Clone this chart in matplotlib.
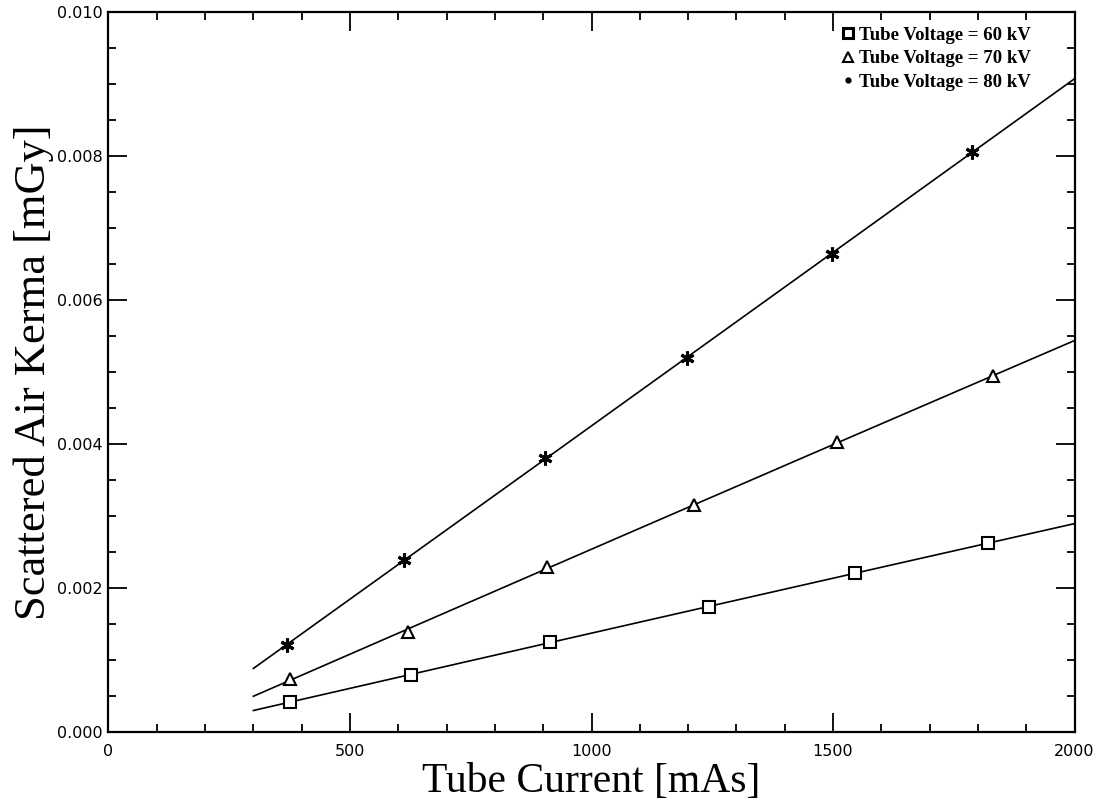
import numpy as np
import matplotlib
matplotlib.use("Agg")
import matplotlib.pyplot as plt
from matplotlib.lines import Line2D
from matplotlib.ticker import MultipleLocator

# data (mAs, mGy)
mas_60 = [376, 626, 914, 1243, 1546, 1820]
kerma_60 = [0.00042, 0.00079, 0.00125, 0.00174, 0.00221, 0.00262]
mas_70 = [376, 620, 908, 1212, 1508, 1831]
kerma_70 = [0.00074, 0.00139, 0.00229, 0.00315, 0.00403, 0.00494]
mas_80 = [370, 612, 904, 1198, 1498, 1788]
kerma_80 = [0.00121, 0.00239, 0.00381, 0.00519, 0.00664, 0.00806]
labels = ["Tube Voltage = 60 kV", "Tube Voltage = 70 kV", "Tube Voltage = 80 kV"]

fig = plt.figure(figsize=(11.01, 8), dpi=100)
ax = fig.add_axes([0.0985, 0.085, 0.8775, 0.9])

# fitted curves, drawn from 300 to 2000 mAs
x_fit = np.linspace(300, 2000, 200)
for xs, ys in [(mas_60, kerma_60), (mas_70, kerma_70), (mas_80, kerma_80)]:
    p = np.polyfit(xs, ys, 2)
    ax.plot(x_fit, np.polyval(p, x_fit), color="black", lw=1.2)

ax.plot(mas_60, kerma_60, ls="none", marker="s", ms=8, mfc="white", mec="black", mew=1.5)
ax.plot(mas_70, kerma_70, ls="none", marker="^", ms=8, mfc="white", mec="black", mew=1.5)
ax.plot(mas_80, kerma_80, ls="none", marker=(6, 2, 0), ms=10, color="black", mew=2.2)

ax.set_xlim(0, 2000)
ax.set_ylim(0, 0.010)
ax.xaxis.set_major_locator(MultipleLocator(500))
ax.xaxis.set_minor_locator(MultipleLocator(100))
ax.yaxis.set_major_locator(MultipleLocator(0.002))
ax.yaxis.set_minor_locator(MultipleLocator(0.0005))
ax.yaxis.set_major_formatter(matplotlib.ticker.FormatStrFormatter("%.3f"))
ax.tick_params(which="both", direction="in", top=True, right=True, width=1.3)
ax.tick_params(which="major", length=14)
ax.tick_params(which="minor", length=6)
ax.tick_params(axis="x", pad=9)
ax.tick_params(axis="y", pad=4)
for lab in ax.get_xticklabels() + ax.get_yticklabels():
    lab.set_fontfamily("DejaVu Sans")
    lab.set_fontsize(11.5)
for s in ax.spines.values():
    s.set_linewidth(1.6)

ax.set_xlabel("Tube Current [mAs]", family="Liberation Serif", fontsize=30, labelpad=2)
ax.set_ylabel("Scattered Air Kerma [mGy]", family="Liberation Serif", fontsize=32, labelpad=2)

handles = [
    Line2D([], [], ls="none", marker="s", ms=7, mfc="white", mec="black", mew=2.2),
    Line2D([], [], ls="none", marker="^", ms=7, mfc="white", mec="black", mew=1.5),
    Line2D([], [], ls="none", marker="o", ms=3.5, color="black"),
]
ax.legend(handles, labels, loc="upper right", bbox_to_anchor=(0.955, 0.98),
          frameon=False, handlelength=0.6, handletextpad=0.3, labelspacing=0.35,
          borderpad=0, borderaxespad=0,
          prop={"family": "Liberation Serif", "weight": "bold", "size": 13.5})

fig.savefig("out.png", dpi=100)
